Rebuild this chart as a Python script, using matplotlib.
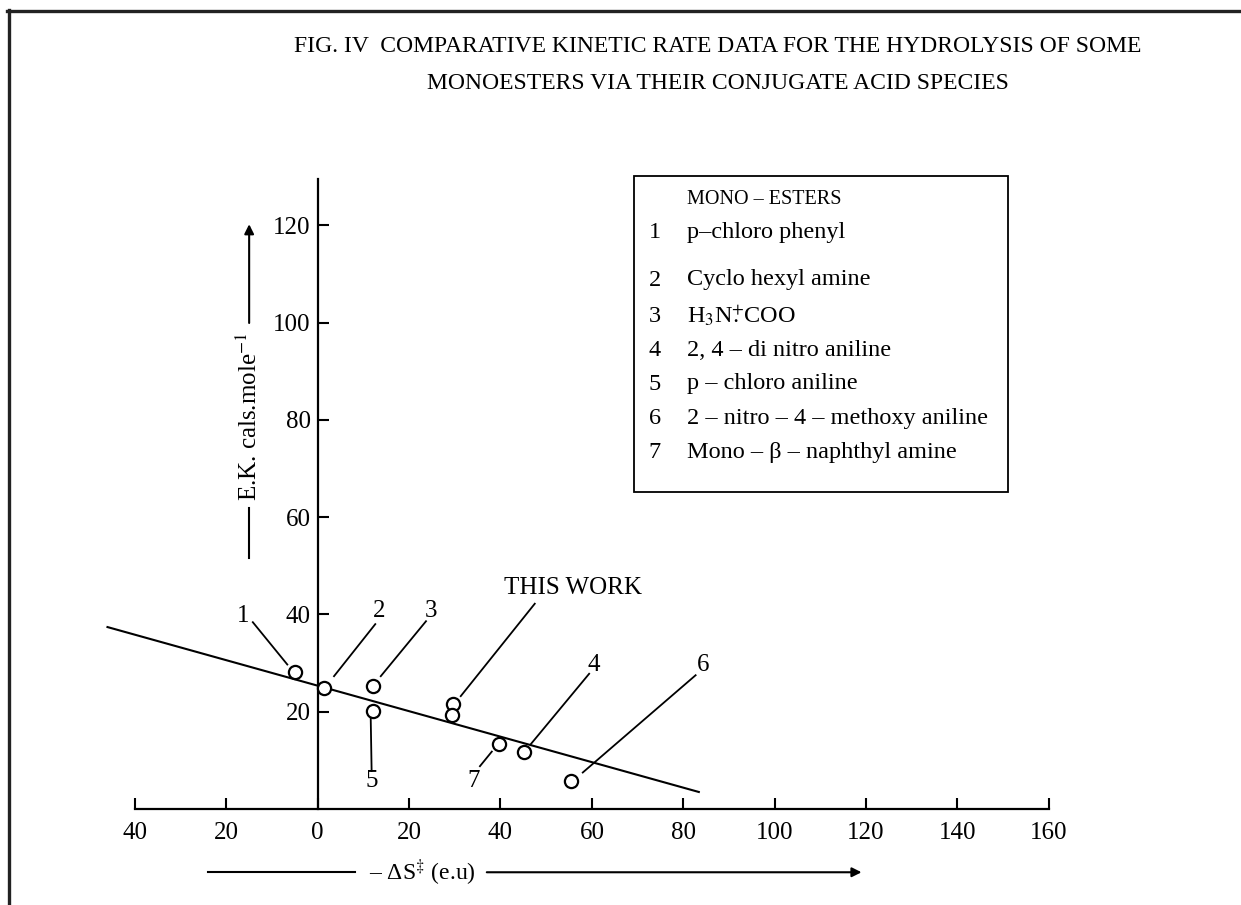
import matplotlib
matplotlib.use('Agg')
import matplotlib.pyplot as plt
from matplotlib.lines import Line2D
from matplotlib.patches import Rectangle

plt.rcParams['font.family'] = ['Liberation Serif', 'DejaVu Serif']
plt.rcParams['mathtext.fontset'] = 'stix'

# ---------------- data ----------------
ds_values = [-5.0, 1.4, 12.2, 12.0, 29.7, 29.3, 39.7, 45.2, 55.4]   # -dS (e.u)
ek_values = [28.2, 24.8, 25.2, 20.1, 21.5, 19.3, 13.4, 11.8, 5.8]   # E.K. cals/mole
fit_ds = [-46.0, 83.4]
fit_ek = [37.4, 3.5]

x_ticks = [-40, -20, 0, 20, 40, 60, 80, 100, 120, 140, 160]
x_tick_labels = ['40', '20', '0', '20', '40', '60', '80', '100', '120', '140', '160']
y_ticks = [20, 40, 60, 80, 100, 120]
y_tick_labels = ['20', '40', '60', '80', '100', '120']

legend_numbers = ['1', '2', '3', '4', '5', '6', '7']
legend_names = ['p\u2013chloro phenyl',
                'Cyclo hexyl amine',
                r'H$_3$N$\overset{+}{.}$COO',
                '2, 4 \u2013 di nitro aniline',
                'p \u2013 chloro aniline',
                '2 \u2013 nitro \u2013 4 \u2013 methoxy aniline',
                'Mono \u2013 \u03b2 \u2013 naphthyl amine']

annot_labels = ['1', '2', '3', '5', 'THIS WORK', '4', '6', '7']

# ---------------- layout (positions) ----------------
W, H = 1241, 905
# label position, leader line start, leader line end (data coords)
annot_geom = [
    ((-16.3, 39.7), (-14.2, 38.4), (-6.65, 29.7)),
    ((13.5, 40.6), (12.6, 38.0), (3.57, 27.3)),
    ((24.9, 40.8), (23.7, 38.6), (13.8, 27.3)),
    ((11.8, 5.8), (11.8, 7.8), (11.6, 18.8)),
    ((55.8, 45.5), (47.5, 42.2), (31.3, 23.2)),
    ((60.3, 29.7), (59.4, 27.8), (46.6, 13.3)),
    ((84.4, 29.7), (82.7, 27.5), (58.0, 7.5)),
    ((34.2, 5.8), (38.1, 11.8), (35.5, 8.8)),
]

fig = plt.figure(figsize=(W / 100, H / 100), dpi=100)
ax = fig.add_axes([0, 0, 1, 1])
ax.set_xlim(-69.52, 202.04)
ax.set_ylim(-19.73, 166.29)
ax.patch.set_visible(False)

def fx(px):
    return px / W

def fy(py):
    return 1 - py / H

# spines as axes
for s in ['top', 'right']:
    ax.spines[s].set_visible(False)
ax.spines['bottom'].set_position(('data', 0))
ax.spines['bottom'].set_bounds(-40, 160)
ax.spines['left'].set_position(('data', 0))
ax.spines['left'].set_bounds(0, 129.5)
for s in ['bottom', 'left']:
    ax.spines[s].set_linewidth(1.6)

ax.set_xticks(x_ticks)
ax.set_xticklabels(x_tick_labels)
ax.set_yticks(y_ticks)
ax.set_yticklabels(y_tick_labels)
ax.tick_params(axis='x', direction='in', length=8, width=1.5, pad=9, labelsize=18)
ax.tick_params(axis='y', direction='in', length=8, width=1.5, pad=5, labelsize=18)

# fit line and points
ax.plot(fit_ds, fit_ek, color='black', lw=1.5, zorder=2)
ax.plot(ds_values, ek_values, linestyle='none', marker='o', ms=9.5,
        mfc='white', mec='black', mew=1.6, zorder=3)

# annotations
for lab, (lxy, l0, l1) in zip(annot_labels, annot_geom):
    ax.text(lxy[0], lxy[1], lab, ha='center', va='center', fontsize=18)
    ax.add_line(Line2D([l0[0], l1[0]], [l0[1], l1[1]], color='black', lw=1.3))

# y axis label with line and arrow
ax.text(-15.0, 80.6, r'E.K. cals.mole$^{-1}$', rotation=90, ha='center',
        va='center', fontsize=18)
ax.add_line(Line2D([-15.0, -15.0], [51.6, 61.9], color='black', lw=1.5))
ax.annotate('', xy=(-15.0, 120.2), xytext=(-15.0, 99.9),
            arrowprops=dict(arrowstyle='-|>', lw=1.5, color='black',
                            mutation_scale=14, shrinkA=0, shrinkB=0))

# x axis label with line and arrow
ax.text(23.0, -13.0, '\u2013 \u0394S$^{\u2021}$ (e.u)', ha='center', va='center', fontsize=17)
ax.add_line(Line2D([-24.0, 8.2], [-13.0, -13.0], color='black', lw=1.5))
ax.annotate('', xy=(119.0, -13.0), xytext=(37.0, -13.0),
            arrowprops=dict(arrowstyle='-|>', lw=1.5, color='black',
                            mutation_scale=14, shrinkA=0, shrinkB=0))

# title
fig.text(fx(718), fy(47), 'FIG. IV  COMPARATIVE KINETIC RATE DATA FOR THE HYDROLYSIS OF SOME',
         ha='center', va='center', fontsize=17)
fig.text(fx(718), fy(83), 'MONOESTERS VIA THEIR CONJUGATE ACID SPECIES',
         ha='center', va='center', fontsize=17)

# legend box
box_l, box_r, box_t, box_b = 634, 1008, 176, 492
fig.add_artist(Rectangle((fx(box_l), fy(box_b)), fx(box_r) - fx(box_l), fy(box_t) - fy(box_b),
                         transform=fig.transFigure, fill=False, ec='black', lw=1.3))
fig.text(fx(764), fy(200), 'MONO \u2013 ESTERS', ha='center', va='center', fontsize=14.5)
item_y = [232, 280, 316, 350, 384, 418, 452]
for num, name, py in zip(legend_numbers, legend_names, item_y):
    fig.text(fx(655), fy(py), num, ha='center', va='center', fontsize=17.5)
    fig.text(fx(687), fy(py), name, ha='left', va='center', fontsize=17.5)

# outer frame (top and left)
fig.add_artist(Line2D([fx(7), 1.0], [fy(11), fy(11)], transform=fig.transFigure,
                      color='#222222', lw=2.4))
fig.add_artist(Line2D([fx(8.5), fx(8.5)], [fy(10), 0.0], transform=fig.transFigure,
                      color='#222222', lw=2.4))

fig.savefig('out.png', dpi=100)
